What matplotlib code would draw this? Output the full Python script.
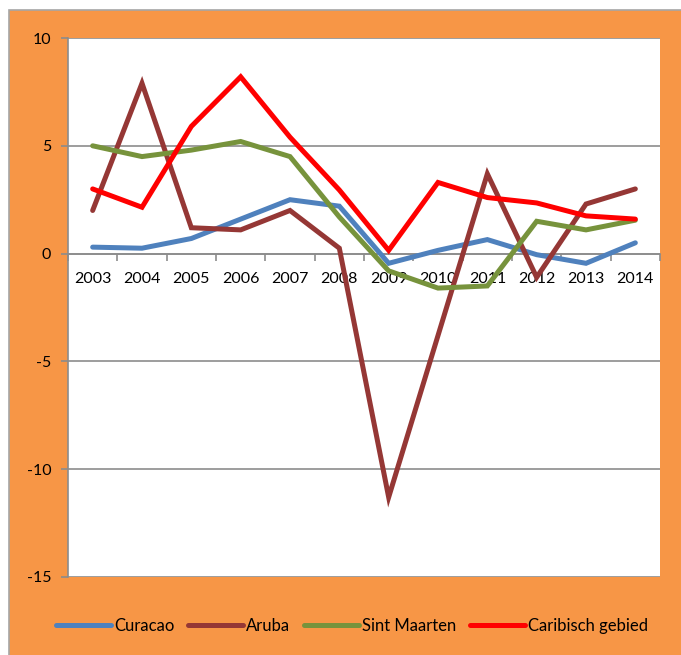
import matplotlib
matplotlib.use("Agg")
import matplotlib.pyplot as plt
from matplotlib.patches import Rectangle
import numpy as np

plt.rcParams["font.family"] = ["Lato", "DejaVu Sans"]
plt.rcParams["axes.unicode_minus"] = False

years = ["2003", "2004", "2005", "2006", "2007", "2008",
         "2009", "2010", "2011", "2012", "2013", "2014"]

curacao = [0.3, 0.25, 0.7, 1.6, 2.5, 2.2, -0.45, 0.15, 0.65, -0.05, -0.45, 0.5]
aruba = [2.0, 7.9, 1.2, 1.1, 2.0, 0.25, -11.3, -3.8, 3.7, -1.1, 2.3, 3.0]
sint_maarten = [5.0, 4.5, 4.8, 5.2, 4.5, 1.7, -0.8, -1.6, -1.5, 1.5, 1.1, 1.55]
caribisch = [3.0, 2.15, 5.9, 8.2, 5.4, 2.95, 0.15, 3.3, 2.6, 2.35, 1.75, 1.6]

series = [
    ("Curacao", curacao, "#4F81BD"),
    ("Aruba", aruba, "#953735"),
    ("Sint Maarten", sint_maarten, "#77933C"),
    ("Caribisch gebied", caribisch, "#FF0000"),
]

W, H = 681, 655
fig = plt.figure(figsize=(W / 100, H / 100), dpi=100, facecolor="white")

# orange chart area with grey border
bg = Rectangle((9 / W, -0.01), 1.0, (H - 10) / H + 0.01,
               transform=fig.transFigure, facecolor="#F79646",
               edgecolor="#A6A6A6", linewidth=1.2, zorder=-10)
fig.patches.append(bg)

ax = fig.add_axes([68 / W, (H - 577) / H, 592 / W, 539 / H])
ax.set_facecolor("white")

x = np.arange(len(years))
for name, vals, col in series:
    ax.plot(x, vals, color=col, linewidth=3.6, label=name,
            solid_joinstyle="miter", solid_capstyle="round", zorder=3)

ax.set_xlim(-0.5, len(years) - 0.5)
ax.set_ylim(-15, 10)
ax.set_yticks([-15, -10, -5, 0, 5, 10])
ax.grid(axis="y", color="#8C8C8C", linewidth=1.2, zorder=1)
ax.set_axisbelow(True)

for s in ["top", "right"]:
    ax.spines[s].set_visible(False)
ax.spines["left"].set_color("#8C8C8C")
ax.spines["left"].set_linewidth(1.2)
ax.spines["bottom"].set_position(("data", 0))
ax.spines["bottom"].set_color("#8C8C8C")
ax.spines["bottom"].set_linewidth(1.2)

ax.set_xticks(x)
ax.set_xticklabels(years)
ax.set_xticks(np.arange(-0.5, len(years), 1.0), minor=True)
ax.tick_params(axis="x", which="major", length=0, pad=13, labelsize=11.5,
               labelcolor="black")
ax.tick_params(axis="x", which="minor", length=5, width=1.2, color="#8C8C8C",
               direction="out")
ax.tick_params(axis="y", length=5, width=1.2, color="#8C8C8C", pad=7,
               labelsize=11.5)

fig.legend(loc="center", bbox_to_anchor=(352 / W, 1 - 626 / H), ncol=4,
           frameon=False, fontsize=12, handlelength=3.3, handletextpad=0.2,
           columnspacing=0.8)

fig.savefig("out.png", dpi=100, facecolor=fig.get_facecolor())
